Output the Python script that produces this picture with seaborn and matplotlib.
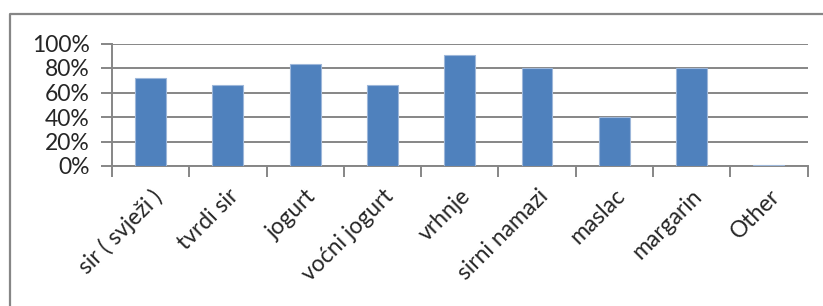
import numpy as np
import pandas as pd
import matplotlib
matplotlib.use("Agg")
import matplotlib.pyplot as plt
import seaborn as sns
from matplotlib.lines import Line2D
from matplotlib.ticker import FixedLocator, PercentFormatter

categories = ["sir ( svježi )", "tvrdi sir", "jogurt", "voćni jogurt", "vrhnje",
              "sirni namazi", "maslac", "margarin", "Other"]
values = [0.72, 0.66, 0.83, 0.66, 0.91, 0.80, 0.40, 0.80, 0.005]
yticks = [0, 0.2, 0.4, 0.6, 0.8, 1.0]

df = pd.DataFrame({"category": categories, "value": values})

sns.set_style("white")
plt.rcParams["font.family"] = ["Lato", "DejaVu Sans"]

grey = "#868686"
bar_color = "#4F81BD"

fig = plt.figure(figsize=(8.23, 3.06), dpi=100)
ax = fig.add_axes([112 / 823, 1 - 166 / 306, (807.5 - 112) / 823, (166 - 43.5) / 306])

sns.barplot(data=df, x="category", y="value", color=bar_color, width=0.4,
            saturation=1, edgecolor="#9DB7DA", linewidth=0.8, ax=ax, zorder=3)

ax.set_ylim(0, 1.0)
ax.set_xlim(-0.5, len(categories) - 0.5)
ax.set_yticks(yticks)
ax.yaxis.set_major_formatter(PercentFormatter(1.0, decimals=0))
ax.grid(axis="y", color=grey, linewidth=1.4, zorder=0)
ax.set_axisbelow(True)

for s in ["top", "right"]:
    ax.spines[s].set_visible(False)
for s in ["left", "bottom"]:
    ax.spines[s].set_color(grey)
    ax.spines[s].set_linewidth(1.4)

ax.tick_params(axis="y", length=8, width=1.4, color=grey, pad=8, labelsize=16.5,
               direction="out", left=True)
ax.tick_params(axis="x", which="major", length=0, pad=14, labelsize=16.5)
ax.xaxis.set_minor_locator(FixedLocator(np.arange(-0.5, len(categories), 1.0)))
ax.tick_params(axis="x", which="minor", length=8, width=1.4, color=grey,
               direction="out", bottom=True)

ax.set_xticks(range(len(categories)))
ax.set_xticklabels(categories, rotation=45, ha="right", rotation_mode="anchor")
ax.set_xlabel("")
ax.set_ylabel("")

# outer chart frame (only top and left edges visible in crop)
fig.add_artist(Line2D([10 / 823, 10 / 823, 1.0], [0.0, 1 - 13.5 / 306, 1 - 13.5 / 306],
                      transform=fig.transFigure, color=grey, linewidth=1.6))

fig.savefig("out.png", dpi=100, facecolor="white")
